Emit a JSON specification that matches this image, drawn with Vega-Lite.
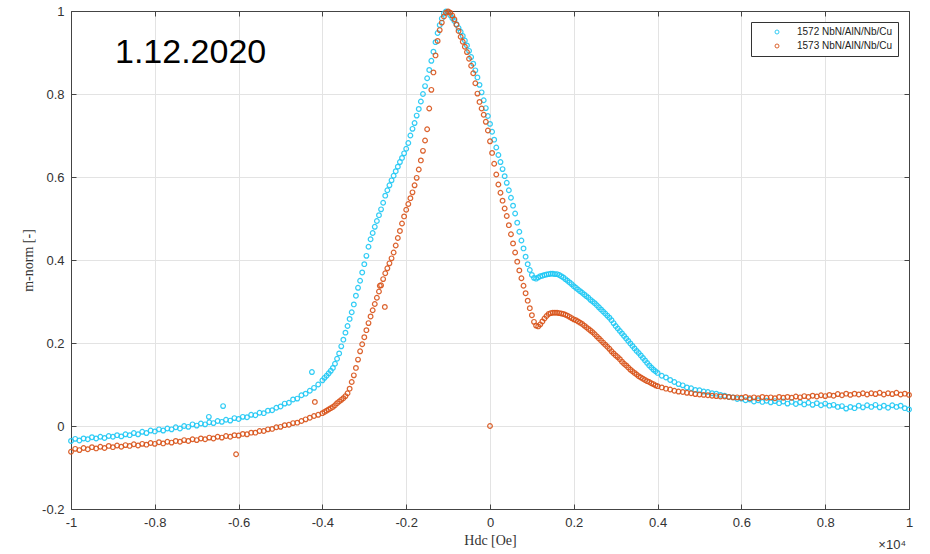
{
"$schema": "https://vega.github.io/schema/vega-lite/v6.json",
"width": 838,
"height": 498,
"autosize": {"type": "none"},
"padding": {"left": 71, "top": 11, "right": 21, "bottom": 45},
"background": "white",
"config": {
 "view": {"stroke": "#444", "strokeWidth": 1},
 "axis": {"domainColor": "#444", "tickColor": "#444", "tickSize": -5, "labelPadding": 12, "labelFont": "Liberation Sans", "labelFontSize": 13, "labelColor": "#333", "gridColor": "#e3e3e3", "titleFont": "Liberation Serif", "titleFontWeight": "normal", "titleFontSize": 14, "titleColor": "#333"},
 "legend": {"orient": "top-right", "offset": 11, "strokeColor": "#333", "fillColor": "white", "padding": 5, "labelFont": "Liberation Sans", "labelFontSize": 10, "labelColor": "#222", "symbolSize": 16, "symbolStrokeWidth": 1, "symbolType": "circle", "symbolOffset": 16, "labelOffset": 15, "rowPadding": 4}
},
"layer": [
{
"data": {"values": [
{"s":"1572","h":-1.00,"m":-0.036},{"s":"1572","h":-0.99,"m":-0.031},{"s":"1572","h":-0.98,"m":-0.035},{"s":"1572","h":-0.97,"m":-0.030},{"s":"1572","h":-0.96,"m":-0.032},{"s":"1572","h":-0.95,"m":-0.027},{"s":"1572","h":-0.94,"m":-0.030},{"s":"1572","h":-0.93,"m":-0.026},{"s":"1572","h":-0.92,"m":-0.029},{"s":"1572","h":-0.91,"m":-0.024},
{"s":"1572","h":-0.90,"m":-0.026},{"s":"1572","h":-0.89,"m":-0.022},{"s":"1572","h":-0.88,"m":-0.025},{"s":"1572","h":-0.87,"m":-0.020},{"s":"1572","h":-0.86,"m":-0.022},{"s":"1572","h":-0.85,"m":-0.017},{"s":"1572","h":-0.84,"m":-0.020},{"s":"1572","h":-0.83,"m":-0.014},{"s":"1572","h":-0.82,"m":-0.017},{"s":"1572","h":-0.81,"m":-0.011},
{"s":"1572","h":-0.80,"m":-0.013},{"s":"1572","h":-0.79,"m":-0.008},{"s":"1572","h":-0.78,"m":-0.011},{"s":"1572","h":-0.77,"m":-0.006},{"s":"1572","h":-0.76,"m":-0.008},{"s":"1572","h":-0.75,"m":-0.003},{"s":"1572","h":-0.74,"m":-0.006},{"s":"1572","h":-0.73,"m":0.000},{"s":"1572","h":-0.72,"m":-0.002},{"s":"1572","h":-0.71,"m":0.004},
{"s":"1572","h":-0.70,"m":0.001},{"s":"1572","h":-0.69,"m":0.006},{"s":"1572","h":-0.68,"m":0.004},{"s":"1572","h":-0.671,"m":0.022},{"s":"1572","h":-0.67,"m":0.009},{"s":"1572","h":-0.66,"m":0.007},{"s":"1572","h":-0.65,"m":0.012},{"s":"1572","h":-0.64,"m":0.010},{"s":"1572","h":-0.637,"m":0.048},{"s":"1572","h":-0.63,"m":0.015},{"s":"1572","h":-0.62,"m":0.013},{"s":"1572","h":-0.61,"m":0.019},
{"s":"1572","h":-0.60,"m":0.017},{"s":"1572","h":-0.59,"m":0.022},{"s":"1572","h":-0.58,"m":0.021},{"s":"1572","h":-0.57,"m":0.027},{"s":"1572","h":-0.56,"m":0.026},{"s":"1572","h":-0.55,"m":0.032},{"s":"1572","h":-0.54,"m":0.031},{"s":"1572","h":-0.53,"m":0.037},{"s":"1572","h":-0.52,"m":0.038},{"s":"1572","h":-0.51,"m":0.044},
{"s":"1572","h":-0.50,"m":0.047},{"s":"1572","h":-0.49,"m":0.054},{"s":"1572","h":-0.48,"m":0.056},{"s":"1572","h":-0.47,"m":0.064},{"s":"1572","h":-0.46,"m":0.066},{"s":"1572","h":-0.45,"m":0.074},{"s":"1572","h":-0.44,"m":0.078},{"s":"1572","h":-0.43,"m":0.085},{"s":"1572","h":-0.425,"m":0.130},{"s":"1572","h":-0.42,"m":0.092},{"s":"1572","h":-0.41,"m":0.100},
{"s":"1572","h":-0.40,"m":0.110},{"s":"1572","h":-0.395,"m":0.116},{"s":"1572","h":-0.39,"m":0.121},{"s":"1572","h":-0.385,"m":0.127},{"s":"1572","h":-0.38,"m":0.133},{"s":"1572","h":-0.375,"m":0.140},{"s":"1572","h":-0.37,"m":0.150},{"s":"1572","h":-0.365,"m":0.162},{"s":"1572","h":-0.36,"m":0.175},{"s":"1572","h":-0.355,"m":0.192},
{"s":"1572","h":-0.35,"m":0.208},{"s":"1572","h":-0.345,"m":0.225},{"s":"1572","h":-0.34,"m":0.241},{"s":"1572","h":-0.335,"m":0.258},{"s":"1572","h":-0.33,"m":0.274},{"s":"1572","h":-0.325,"m":0.293},{"s":"1572","h":-0.32,"m":0.314},{"s":"1572","h":-0.315,"m":0.333},{"s":"1572","h":-0.31,"m":0.350},{"s":"1572","h":-0.305,"m":0.370},
{"s":"1572","h":-0.30,"m":0.390},{"s":"1572","h":-0.295,"m":0.410},{"s":"1572","h":-0.29,"m":0.432},{"s":"1572","h":-0.285,"m":0.450},{"s":"1572","h":-0.28,"m":0.465},{"s":"1572","h":-0.275,"m":0.480},{"s":"1572","h":-0.27,"m":0.494},{"s":"1572","h":-0.265,"m":0.508},{"s":"1572","h":-0.26,"m":0.522},{"s":"1572","h":-0.255,"m":0.538},
{"s":"1572","h":-0.25,"m":0.555},{"s":"1572","h":-0.245,"m":0.568},{"s":"1572","h":-0.24,"m":0.580},{"s":"1572","h":-0.235,"m":0.592},{"s":"1572","h":-0.23,"m":0.603},{"s":"1572","h":-0.225,"m":0.614},{"s":"1572","h":-0.22,"m":0.625},{"s":"1572","h":-0.215,"m":0.636},{"s":"1572","h":-0.21,"m":0.646},{"s":"1572","h":-0.205,"m":0.657},
{"s":"1572","h":-0.20,"m":0.668},{"s":"1572","h":-0.195,"m":0.682},{"s":"1572","h":-0.19,"m":0.700},{"s":"1572","h":-0.185,"m":0.716},{"s":"1572","h":-0.18,"m":0.730},{"s":"1572","h":-0.175,"m":0.748},{"s":"1572","h":-0.17,"m":0.764},{"s":"1572","h":-0.165,"m":0.782},{"s":"1572","h":-0.16,"m":0.800},{"s":"1572","h":-0.155,"m":0.819},
{"s":"1572","h":-0.15,"m":0.838},{"s":"1572","h":-0.145,"m":0.858},{"s":"1572","h":-0.14,"m":0.880},{"s":"1572","h":-0.135,"m":0.902},{"s":"1572","h":-0.13,"m":0.925},{"s":"1572","h":-0.125,"m":0.947},{"s":"1572","h":-0.12,"m":0.966},{"s":"1572","h":-0.115,"m":0.982},{"s":"1572","h":-0.11,"m":0.994},{"s":"1572","h":-0.105,"m":0.999},
{"s":"1572","h":-0.10,"m":0.997},{"s":"1572","h":-0.095,"m":0.990},{"s":"1572","h":-0.09,"m":0.983},{"s":"1572","h":-0.085,"m":0.976},{"s":"1572","h":-0.08,"m":0.968},{"s":"1572","h":-0.075,"m":0.959},{"s":"1572","h":-0.07,"m":0.950},{"s":"1572","h":-0.065,"m":0.940},{"s":"1572","h":-0.06,"m":0.929},{"s":"1572","h":-0.055,"m":0.917},
{"s":"1572","h":-0.05,"m":0.904},{"s":"1572","h":-0.045,"m":0.889},{"s":"1572","h":-0.04,"m":0.873},{"s":"1572","h":-0.035,"m":0.857},{"s":"1572","h":-0.03,"m":0.840},{"s":"1572","h":-0.025,"m":0.822},{"s":"1572","h":-0.02,"m":0.804},{"s":"1572","h":-0.015,"m":0.785},{"s":"1572","h":-0.01,"m":0.766},{"s":"1572","h":-0.005,"m":0.747},
{"s":"1572","h":0.000,"m":0.728},{"s":"1572","h":0.005,"m":0.709},{"s":"1572","h":0.01,"m":0.690},{"s":"1572","h":0.015,"m":0.671},{"s":"1572","h":0.02,"m":0.653},{"s":"1572","h":0.025,"m":0.636},{"s":"1572","h":0.03,"m":0.619},{"s":"1572","h":0.035,"m":0.602},{"s":"1572","h":0.04,"m":0.586},{"s":"1572","h":0.045,"m":0.568},
{"s":"1572","h":0.05,"m":0.550},{"s":"1572","h":0.055,"m":0.531},{"s":"1572","h":0.06,"m":0.512},{"s":"1572","h":0.065,"m":0.490},{"s":"1572","h":0.07,"m":0.468},{"s":"1572","h":0.075,"m":0.447},{"s":"1572","h":0.08,"m":0.428},{"s":"1572","h":0.085,"m":0.408},{"s":"1572","h":0.09,"m":0.390},{"s":"1572","h":0.095,"m":0.376},
{"s":"1572","h":0.10,"m":0.364},{"s":"1572","h":0.105,"m":0.357},{"s":"1572","h":0.11,"m":0.355},{"s":"1572","h":0.115,"m":0.358},{"s":"1572","h":0.12,"m":0.361},{"s":"1572","h":0.125,"m":0.362},{"s":"1572","h":0.13,"m":0.364},{"s":"1572","h":0.135,"m":0.365},{"s":"1572","h":0.14,"m":0.366},{"s":"1572","h":0.145,"m":0.367},
{"s":"1572","h":0.15,"m":0.367},{"s":"1572","h":0.155,"m":0.366},{"s":"1572","h":0.16,"m":0.366},{"s":"1572","h":0.165,"m":0.364},{"s":"1572","h":0.17,"m":0.361},{"s":"1572","h":0.175,"m":0.358},{"s":"1572","h":0.18,"m":0.354},{"s":"1572","h":0.185,"m":0.350},{"s":"1572","h":0.19,"m":0.346},{"s":"1572","h":0.195,"m":0.342},
{"s":"1572","h":0.20,"m":0.337},{"s":"1572","h":0.205,"m":0.333},{"s":"1572","h":0.21,"m":0.329},{"s":"1572","h":0.215,"m":0.325},{"s":"1572","h":0.22,"m":0.321},{"s":"1572","h":0.225,"m":0.317},{"s":"1572","h":0.23,"m":0.313},{"s":"1572","h":0.235,"m":0.309},{"s":"1572","h":0.24,"m":0.304},{"s":"1572","h":0.245,"m":0.300},
{"s":"1572","h":0.25,"m":0.296},{"s":"1572","h":0.255,"m":0.291},{"s":"1572","h":0.26,"m":0.286},{"s":"1572","h":0.265,"m":0.281},{"s":"1572","h":0.27,"m":0.276},{"s":"1572","h":0.275,"m":0.271},{"s":"1572","h":0.28,"m":0.266},{"s":"1572","h":0.285,"m":0.261},{"s":"1572","h":0.29,"m":0.255},{"s":"1572","h":0.295,"m":0.248},
{"s":"1572","h":0.30,"m":0.241},{"s":"1572","h":0.305,"m":0.235},{"s":"1572","h":0.31,"m":0.229},{"s":"1572","h":0.315,"m":0.223},{"s":"1572","h":0.32,"m":0.217},{"s":"1572","h":0.325,"m":0.211},{"s":"1572","h":0.33,"m":0.205},{"s":"1572","h":0.335,"m":0.199},{"s":"1572","h":0.34,"m":0.193},{"s":"1572","h":0.345,"m":0.187},
{"s":"1572","h":0.35,"m":0.181},{"s":"1572","h":0.355,"m":0.176},{"s":"1572","h":0.36,"m":0.170},{"s":"1572","h":0.365,"m":0.164},{"s":"1572","h":0.37,"m":0.158},{"s":"1572","h":0.375,"m":0.152},{"s":"1572","h":0.38,"m":0.146},{"s":"1572","h":0.385,"m":0.141},{"s":"1572","h":0.39,"m":0.136},{"s":"1572","h":0.395,"m":0.132},
{"s":"1572","h":0.40,"m":0.128},{"s":"1572","h":0.41,"m":0.121},{"s":"1572","h":0.42,"m":0.117},{"s":"1572","h":0.43,"m":0.111},{"s":"1572","h":0.44,"m":0.106},{"s":"1572","h":0.45,"m":0.101},{"s":"1572","h":0.46,"m":0.098},{"s":"1572","h":0.47,"m":0.093},{"s":"1572","h":0.48,"m":0.091},{"s":"1572","h":0.49,"m":0.087},
{"s":"1572","h":0.50,"m":0.086},{"s":"1572","h":0.51,"m":0.083},{"s":"1572","h":0.52,"m":0.082},{"s":"1572","h":0.53,"m":0.079},{"s":"1572","h":0.54,"m":0.078},{"s":"1572","h":0.55,"m":0.075},{"s":"1572","h":0.56,"m":0.073},{"s":"1572","h":0.57,"m":0.070},{"s":"1572","h":0.58,"m":0.069},{"s":"1572","h":0.59,"m":0.065},
{"s":"1572","h":0.60,"m":0.066},{"s":"1572","h":0.61,"m":0.062},{"s":"1572","h":0.62,"m":0.064},{"s":"1572","h":0.63,"m":0.059},{"s":"1572","h":0.64,"m":0.062},{"s":"1572","h":0.65,"m":0.058},{"s":"1572","h":0.66,"m":0.061},{"s":"1572","h":0.67,"m":0.057},{"s":"1572","h":0.68,"m":0.060},{"s":"1572","h":0.69,"m":0.055},
{"s":"1572","h":0.70,"m":0.059},{"s":"1572","h":0.71,"m":0.054},{"s":"1572","h":0.72,"m":0.058},{"s":"1572","h":0.73,"m":0.053},{"s":"1572","h":0.74,"m":0.057},{"s":"1572","h":0.75,"m":0.052},{"s":"1572","h":0.76,"m":0.056},{"s":"1572","h":0.77,"m":0.051},{"s":"1572","h":0.78,"m":0.055},{"s":"1572","h":0.79,"m":0.050},
{"s":"1572","h":0.80,"m":0.054},{"s":"1572","h":0.81,"m":0.049},{"s":"1572","h":0.82,"m":0.051},{"s":"1572","h":0.83,"m":0.046},{"s":"1572","h":0.84,"m":0.048},{"s":"1572","h":0.85,"m":0.042},{"s":"1572","h":0.86,"m":0.046},{"s":"1572","h":0.87,"m":0.043},{"s":"1572","h":0.88,"m":0.049},{"s":"1572","h":0.89,"m":0.045},
{"s":"1572","h":0.90,"m":0.050},{"s":"1572","h":0.91,"m":0.046},{"s":"1572","h":0.92,"m":0.051},{"s":"1572","h":0.93,"m":0.045},{"s":"1572","h":0.94,"m":0.049},{"s":"1572","h":0.95,"m":0.044},{"s":"1572","h":0.96,"m":0.050},{"s":"1572","h":0.97,"m":0.046},{"s":"1572","h":0.98,"m":0.049},{"s":"1572","h":0.99,"m":0.043},{"s":"1572","h":1.00,"m":0.040},
{"s":"1573","h":-1.00,"m":-0.062},{"s":"1573","h":-0.99,"m":-0.055},{"s":"1573","h":-0.98,"m":-0.058},{"s":"1573","h":-0.97,"m":-0.053},{"s":"1573","h":-0.96,"m":-0.056},{"s":"1573","h":-0.95,"m":-0.051},{"s":"1573","h":-0.94,"m":-0.054},{"s":"1573","h":-0.93,"m":-0.050},{"s":"1573","h":-0.92,"m":-0.053},{"s":"1573","h":-0.91,"m":-0.048},
{"s":"1573","h":-0.90,"m":-0.051},{"s":"1573","h":-0.89,"m":-0.047},{"s":"1573","h":-0.88,"m":-0.050},{"s":"1573","h":-0.87,"m":-0.046},{"s":"1573","h":-0.86,"m":-0.048},{"s":"1573","h":-0.85,"m":-0.044},{"s":"1573","h":-0.84,"m":-0.047},{"s":"1573","h":-0.83,"m":-0.043},{"s":"1573","h":-0.82,"m":-0.045},{"s":"1573","h":-0.81,"m":-0.041},
{"s":"1573","h":-0.80,"m":-0.043},{"s":"1573","h":-0.79,"m":-0.039},{"s":"1573","h":-0.78,"m":-0.042},{"s":"1573","h":-0.77,"m":-0.038},{"s":"1573","h":-0.76,"m":-0.040},{"s":"1573","h":-0.75,"m":-0.036},{"s":"1573","h":-0.74,"m":-0.038},{"s":"1573","h":-0.73,"m":-0.034},{"s":"1573","h":-0.72,"m":-0.036},{"s":"1573","h":-0.71,"m":-0.032},
{"s":"1573","h":-0.70,"m":-0.034},{"s":"1573","h":-0.69,"m":-0.030},{"s":"1573","h":-0.68,"m":-0.032},{"s":"1573","h":-0.67,"m":-0.028},{"s":"1573","h":-0.66,"m":-0.030},{"s":"1573","h":-0.65,"m":-0.026},{"s":"1573","h":-0.64,"m":-0.028},{"s":"1573","h":-0.63,"m":-0.024},{"s":"1573","h":-0.62,"m":-0.026},{"s":"1573","h":-0.61,"m":-0.022},{"s":"1573","h":-0.606,"m":-0.068},
{"s":"1573","h":-0.60,"m":-0.023},{"s":"1573","h":-0.59,"m":-0.019},{"s":"1573","h":-0.58,"m":-0.020},{"s":"1573","h":-0.57,"m":-0.016},{"s":"1573","h":-0.56,"m":-0.016},{"s":"1573","h":-0.55,"m":-0.012},{"s":"1573","h":-0.54,"m":-0.012},{"s":"1573","h":-0.53,"m":-0.008},{"s":"1573","h":-0.52,"m":-0.007},{"s":"1573","h":-0.51,"m":-0.003},
{"s":"1573","h":-0.50,"m":-0.002},{"s":"1573","h":-0.49,"m":0.002},{"s":"1573","h":-0.48,"m":0.003},{"s":"1573","h":-0.47,"m":0.007},{"s":"1573","h":-0.46,"m":0.008},{"s":"1573","h":-0.45,"m":0.012},{"s":"1573","h":-0.44,"m":0.016},{"s":"1573","h":-0.43,"m":0.020},{"s":"1573","h":-0.42,"m":0.024},{"s":"1573","h":-0.418,"m":0.058},{"s":"1573","h":-0.41,"m":0.027},
{"s":"1573","h":-0.40,"m":0.031},{"s":"1573","h":-0.395,"m":0.034},{"s":"1573","h":-0.39,"m":0.037},{"s":"1573","h":-0.385,"m":0.040},{"s":"1573","h":-0.38,"m":0.043},{"s":"1573","h":-0.375,"m":0.046},{"s":"1573","h":-0.37,"m":0.050},{"s":"1573","h":-0.365,"m":0.055},{"s":"1573","h":-0.36,"m":0.059},{"s":"1573","h":-0.355,"m":0.063},
{"s":"1573","h":-0.35,"m":0.067},{"s":"1573","h":-0.345,"m":0.072},{"s":"1573","h":-0.34,"m":0.079},{"s":"1573","h":-0.335,"m":0.090},{"s":"1573","h":-0.33,"m":0.106},{"s":"1573","h":-0.325,"m":0.122},{"s":"1573","h":-0.32,"m":0.140},{"s":"1573","h":-0.315,"m":0.160},{"s":"1573","h":-0.31,"m":0.180},{"s":"1573","h":-0.305,"m":0.197},
{"s":"1573","h":-0.30,"m":0.214},{"s":"1573","h":-0.295,"m":0.231},{"s":"1573","h":-0.29,"m":0.248},{"s":"1573","h":-0.285,"m":0.264},{"s":"1573","h":-0.28,"m":0.279},{"s":"1573","h":-0.275,"m":0.294},{"s":"1573","h":-0.27,"m":0.309},{"s":"1573","h":-0.265,"m":0.324},{"s":"1573","h":-0.263,"m":0.338},{"s":"1573","h":-0.26,"m":0.339},{"s":"1573","h":-0.255,"m":0.354},{"s":"1573","h":-0.251,"m":0.287},
{"s":"1573","h":-0.25,"m":0.368},{"s":"1573","h":-0.245,"m":0.380},{"s":"1573","h":-0.24,"m":0.392},{"s":"1573","h":-0.235,"m":0.404},{"s":"1573","h":-0.23,"m":0.418},{"s":"1573","h":-0.225,"m":0.435},{"s":"1573","h":-0.22,"m":0.453},{"s":"1573","h":-0.215,"m":0.470},{"s":"1573","h":-0.21,"m":0.488},{"s":"1573","h":-0.205,"m":0.505},
{"s":"1573","h":-0.20,"m":0.521},{"s":"1573","h":-0.195,"m":0.535},{"s":"1573","h":-0.19,"m":0.549},{"s":"1573","h":-0.185,"m":0.563},{"s":"1573","h":-0.18,"m":0.580},{"s":"1573","h":-0.175,"m":0.598},{"s":"1573","h":-0.17,"m":0.618},{"s":"1573","h":-0.165,"m":0.640},{"s":"1573","h":-0.16,"m":0.663},{"s":"1573","h":-0.155,"m":0.688},
{"s":"1573","h":-0.15,"m":0.715},{"s":"1573","h":-0.145,"m":0.765},{"s":"1573","h":-0.14,"m":0.810},{"s":"1573","h":-0.135,"m":0.852},{"s":"1573","h":-0.13,"m":0.893},{"s":"1573","h":-0.125,"m":0.928},{"s":"1573","h":-0.12,"m":0.954},{"s":"1573","h":-0.115,"m":0.972},{"s":"1573","h":-0.11,"m":0.987},{"s":"1573","h":-0.105,"m":0.996},
{"s":"1573","h":-0.10,"m":0.999},{"s":"1573","h":-0.095,"m":0.996},{"s":"1573","h":-0.09,"m":0.989},{"s":"1573","h":-0.085,"m":0.980},{"s":"1573","h":-0.08,"m":0.967},{"s":"1573","h":-0.075,"m":0.952},{"s":"1573","h":-0.07,"m":0.938},{"s":"1573","h":-0.065,"m":0.926},{"s":"1573","h":-0.06,"m":0.914},{"s":"1573","h":-0.055,"m":0.901},
{"s":"1573","h":-0.05,"m":0.885},{"s":"1573","h":-0.045,"m":0.868},{"s":"1573","h":-0.04,"m":0.850},{"s":"1573","h":-0.035,"m":0.826},{"s":"1573","h":-0.03,"m":0.801},{"s":"1573","h":-0.025,"m":0.781},{"s":"1573","h":-0.02,"m":0.765},{"s":"1573","h":-0.015,"m":0.750},{"s":"1573","h":-0.01,"m":0.733},{"s":"1573","h":-0.005,"m":0.712},
{"s":"1573","h":0.000,"m":0.686},{"s":"1573","h":0.0,"m":0.0},{"s":"1573","h":0.005,"m":0.658},{"s":"1573","h":0.01,"m":0.632},{"s":"1573","h":0.015,"m":0.606},{"s":"1573","h":0.02,"m":0.582},{"s":"1573","h":0.025,"m":0.562},{"s":"1573","h":0.03,"m":0.543},{"s":"1573","h":0.035,"m":0.524},{"s":"1573","h":0.04,"m":0.506},{"s":"1573","h":0.045,"m":0.484},
{"s":"1573","h":0.05,"m":0.462},{"s":"1573","h":0.055,"m":0.440},{"s":"1573","h":0.06,"m":0.418},{"s":"1573","h":0.065,"m":0.396},{"s":"1573","h":0.07,"m":0.375},{"s":"1573","h":0.075,"m":0.356},{"s":"1573","h":0.08,"m":0.338},{"s":"1573","h":0.085,"m":0.320},{"s":"1573","h":0.09,"m":0.302},{"s":"1573","h":0.095,"m":0.284},
{"s":"1573","h":0.10,"m":0.267},{"s":"1573","h":0.105,"m":0.251},{"s":"1573","h":0.11,"m":0.242},{"s":"1573","h":0.115,"m":0.240},{"s":"1573","h":0.12,"m":0.245},{"s":"1573","h":0.125,"m":0.252},{"s":"1573","h":0.13,"m":0.259},{"s":"1573","h":0.135,"m":0.265},{"s":"1573","h":0.14,"m":0.270},{"s":"1573","h":0.145,"m":0.272},
{"s":"1573","h":0.15,"m":0.273},{"s":"1573","h":0.155,"m":0.273},{"s":"1573","h":0.16,"m":0.273},{"s":"1573","h":0.165,"m":0.272},{"s":"1573","h":0.17,"m":0.271},{"s":"1573","h":0.175,"m":0.270},{"s":"1573","h":0.18,"m":0.268},{"s":"1573","h":0.185,"m":0.266},{"s":"1573","h":0.19,"m":0.263},{"s":"1573","h":0.195,"m":0.260},
{"s":"1573","h":0.20,"m":0.257},{"s":"1573","h":0.205,"m":0.255},{"s":"1573","h":0.21,"m":0.252},{"s":"1573","h":0.215,"m":0.249},{"s":"1573","h":0.22,"m":0.246},{"s":"1573","h":0.225,"m":0.242},{"s":"1573","h":0.23,"m":0.238},{"s":"1573","h":0.235,"m":0.234},{"s":"1573","h":0.24,"m":0.230},{"s":"1573","h":0.245,"m":0.226},
{"s":"1573","h":0.25,"m":0.221},{"s":"1573","h":0.255,"m":0.216},{"s":"1573","h":0.26,"m":0.211},{"s":"1573","h":0.265,"m":0.206},{"s":"1573","h":0.27,"m":0.201},{"s":"1573","h":0.275,"m":0.196},{"s":"1573","h":0.28,"m":0.191},{"s":"1573","h":0.285,"m":0.186},{"s":"1573","h":0.29,"m":0.180},{"s":"1573","h":0.295,"m":0.175},
{"s":"1573","h":0.30,"m":0.170},{"s":"1573","h":0.305,"m":0.166},{"s":"1573","h":0.31,"m":0.161},{"s":"1573","h":0.315,"m":0.155},{"s":"1573","h":0.32,"m":0.150},{"s":"1573","h":0.325,"m":0.146},{"s":"1573","h":0.33,"m":0.141},{"s":"1573","h":0.335,"m":0.136},{"s":"1573","h":0.34,"m":0.132},{"s":"1573","h":0.345,"m":0.128},
{"s":"1573","h":0.35,"m":0.124},{"s":"1573","h":0.355,"m":0.120},{"s":"1573","h":0.36,"m":0.117},{"s":"1573","h":0.365,"m":0.114},{"s":"1573","h":0.37,"m":0.111},{"s":"1573","h":0.375,"m":0.108},{"s":"1573","h":0.38,"m":0.106},{"s":"1573","h":0.385,"m":0.103},{"s":"1573","h":0.39,"m":0.101},{"s":"1573","h":0.395,"m":0.098},
{"s":"1573","h":0.40,"m":0.096},{"s":"1573","h":0.41,"m":0.093},{"s":"1573","h":0.42,"m":0.090},{"s":"1573","h":0.43,"m":0.088},{"s":"1573","h":0.44,"m":0.085},{"s":"1573","h":0.45,"m":0.083},{"s":"1573","h":0.46,"m":0.082},{"s":"1573","h":0.47,"m":0.080},{"s":"1573","h":0.48,"m":0.079},{"s":"1573","h":0.49,"m":0.077},
{"s":"1573","h":0.50,"m":0.076},{"s":"1573","h":0.51,"m":0.075},{"s":"1573","h":0.52,"m":0.074},{"s":"1573","h":0.53,"m":0.073},{"s":"1573","h":0.54,"m":0.072},{"s":"1573","h":0.55,"m":0.071},{"s":"1573","h":0.56,"m":0.071},{"s":"1573","h":0.57,"m":0.070},{"s":"1573","h":0.58,"m":0.069},{"s":"1573","h":0.59,"m":0.069},
{"s":"1573","h":0.60,"m":0.068},{"s":"1573","h":0.61,"m":0.070},{"s":"1573","h":0.62,"m":0.067},{"s":"1573","h":0.63,"m":0.069},{"s":"1573","h":0.64,"m":0.067},{"s":"1573","h":0.65,"m":0.070},{"s":"1573","h":0.66,"m":0.068},{"s":"1573","h":0.67,"m":0.069},{"s":"1573","h":0.68,"m":0.067},{"s":"1573","h":0.69,"m":0.070},
{"s":"1573","h":0.70,"m":0.068},{"s":"1573","h":0.71,"m":0.070},{"s":"1573","h":0.72,"m":0.068},{"s":"1573","h":0.73,"m":0.071},{"s":"1573","h":0.74,"m":0.069},{"s":"1573","h":0.75,"m":0.072},{"s":"1573","h":0.76,"m":0.070},{"s":"1573","h":0.77,"m":0.073},{"s":"1573","h":0.78,"m":0.071},{"s":"1573","h":0.79,"m":0.074},
{"s":"1573","h":0.80,"m":0.072},{"s":"1573","h":0.81,"m":0.075},{"s":"1573","h":0.82,"m":0.073},{"s":"1573","h":0.83,"m":0.077},{"s":"1573","h":0.84,"m":0.074},{"s":"1573","h":0.85,"m":0.078},{"s":"1573","h":0.86,"m":0.075},{"s":"1573","h":0.87,"m":0.078},{"s":"1573","h":0.88,"m":0.076},{"s":"1573","h":0.89,"m":0.079},
{"s":"1573","h":0.90,"m":0.076},{"s":"1573","h":0.91,"m":0.079},{"s":"1573","h":0.92,"m":0.077},{"s":"1573","h":0.93,"m":0.080},{"s":"1573","h":0.94,"m":0.076},{"s":"1573","h":0.95,"m":0.079},{"s":"1573","h":0.96,"m":0.077},{"s":"1573","h":0.97,"m":0.080},{"s":"1573","h":0.98,"m":0.076},{"s":"1573","h":0.99,"m":0.078},{"s":"1573","h":1.00,"m":0.075}
]},
"mark": {"type": "point", "filled": false, "size": 22, "strokeWidth": 1.2, "opacity": 0.9},
"encoding": {
 "x": {"field": "h", "type": "quantitative", "scale": {"domain": [-1, 1], "nice": false, "zero": false}, "axis": {"values": [-1, -0.8, -0.6, -0.4, -0.2, 0, 0.2, 0.4, 0.6, 0.8, 1], "labelExpr": "'' + datum.value", "title": "Hdc [Oe]", "labelFlush": false, "titlePadding": 4}},
 "y": {"field": "m", "type": "quantitative", "scale": {"domain": [-0.2, 1], "nice": false, "zero": false}, "axis": {"values": [-0.2, 0, 0.2, 0.4, 0.6, 0.8, 1], "labelExpr": "'' + datum.value", "title": "m-norm [-]", "titlePadding": 6, "labelFlush": false}},
 "color": {"field": "s", "type": "nominal", "scale": {"domain": ["1572", "1573"], "range": ["#1ec8f5", "#d95319"]}, "legend": {"title": null, "labelExpr": "datum.label + ' NbN/AlN/Nb/Cu'"}}
}
},
{
"data": {"values": [{}]},
"mark": {"type": "text", "font": "Liberation Sans", "fontSize": 34, "align": "left", "baseline": "middle", "color": "#000"},
"encoding": {
 "x": {"datum": -0.895, "type": "quantitative", "scale": {"domain": [-1, 1], "nice": false, "zero": false}, "axis": {"orient": "top", "values": [-1, -0.8, -0.6, -0.4, -0.2, 0, 0.2, 0.4, 0.6, 0.8, 1], "labels": false, "title": null, "grid": false}},
 "y": {"datum": 0.9, "type": "quantitative", "scale": {"domain": [-0.2, 1], "nice": false, "zero": false}, "axis": {"orient": "right", "values": [-0.2, 0, 0.2, 0.4, 0.6, 0.8, 1], "labels": false, "title": null, "grid": false}},
 "text": {"value": "1.12.2020"}
}
},
{
"data": {"values": [{}]},
"mark": {"type": "text", "font": "Liberation Sans", "fontSize": 13, "align": "right", "baseline": "middle", "dy": 36, "dx": -3, "color": "#333"},
"encoding": {
 "x": {"datum": 1, "type": "quantitative", "axis": null},
 "y": {"datum": -0.2, "type": "quantitative", "axis": null},
 "text": {"value": "×10⁴"}
}
}
],
"resolve": {"axis": {"x": "independent", "y": "independent"}}
}
